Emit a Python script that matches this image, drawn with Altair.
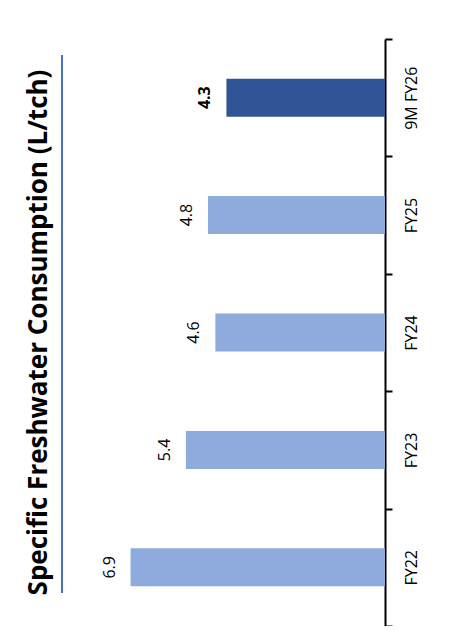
import altair as alt
import pandas as pd

categories = ["FY22", "FY23", "FY24", "FY25", "9M FY26"]
values = [6.9, 5.4, 4.6, 4.8, 4.3]
highlight = [False, False, False, False, True]
order_top_to_bottom = ["9M FY26", "FY25", "FY24", "FY23", "FY22"]

df = pd.DataFrame({"cat": categories, "val": values, "hl": highlight,
                   "label": [f"{v:.1f}" for v in values]})

W, H = 295, 587

y_enc = alt.Y("cat:N", sort=order_top_to_bottom,
              scale=alt.Scale(paddingInner=0, paddingOuter=0),
              axis=alt.Axis(orient="right", title=None, tickBand="extent",
                            domainColor="black", domainWidth=2,
                            tickColor="black", tickWidth=2, tickSize=7,
                            labelAngle=-90, labelAlign="center", labelBaseline="top",
                            labelPadding=11, labelFont="Open Sans", labelFontSize=16,
                            labelColor="black", grid=False))
x_enc = alt.X("val:Q", scale=alt.Scale(domain=[0, 8], reverse=True), axis=None)

base = alt.Chart(df)

bars = base.mark_bar(size=38).encode(
    x=x_enc, y=y_enc,
    color=alt.Color("hl:N", scale=alt.Scale(domain=[False, True], range=["#8FAADC", "#2F5597"]), legend=None),
)

labels_normal = base.transform_filter("!datum.hl").mark_text(
    angle=270, align="center", baseline="alphabetic", dy=-16,
    font="Open Sans", fontSize=16, color="black"
).encode(x=x_enc, y=y_enc, text="label:N")

labels_bold = base.transform_filter("datum.hl").mark_text(
    angle=270, align="center", baseline="alphabetic", dy=-16,
    font="Open Sans", fontSize=16, fontWeight="bold", color="black"
).encode(x=x_enc, y=y_enc, text="label:N")

title_rule = alt.Chart(alt.Data(values=[{}])).mark_rule(color="#4472C4", strokeWidth=2).encode(
    x=alt.value(-28), y=alt.value(16), y2=alt.value(554))

chart = alt.layer(bars, labels_normal, labels_bold, title_rule).properties(
    width=W, height=H,
    title=alt.TitleParams("Specific Freshwater Consumption (L/tch)", orient="left",
                          anchor="middle", font="Open Sans", fontSize=26, fontWeight="bold",
                          color="black", offset=-17, baseline="bottom"),
    autosize=alt.AutoSizeParams(type="none"),
    padding={"left": 82, "top": 31, "right": 58, "bottom": 0},
    background="white",
).configure_view(stroke=None)

chart.save("out.html", embed_options={"renderer": "svg", "actions": False})
